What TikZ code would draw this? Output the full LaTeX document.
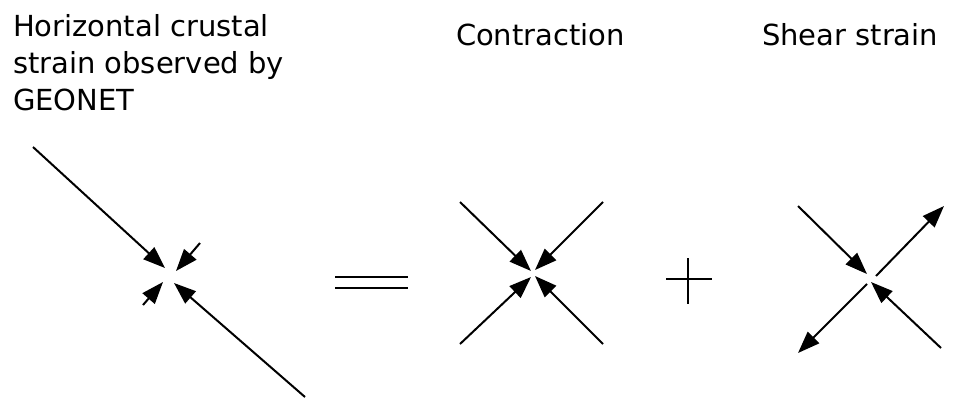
\documentclass[tikz,border=0pt]{standalone}
\usepackage{fontspec}
\setmainfont{DejaVu Sans}
\usetikzlibrary{arrows.meta}
\begin{document}
\begin{tikzpicture}[x=1pt, y=-1pt, >={Triangle[length=22pt,width=16pt]}, line width=2pt]
\useasboundingbox (0,0) rectangle (972,405);
\tikzset{title/.style={font=\fontsize{29}{37}\selectfont, inner sep=0pt, anchor=base west, align=left}}
% observed strain
\coordinate (O1) at (33,147);
\coordinate (O2) at (200,243);
\coordinate (O3) at (143,305);
\coordinate (O4) at (305,397);
\coordinate (T1) at (165,268);
\coordinate (T2) at (176,271);
\coordinate (T3) at (163,282);
\coordinate (T4) at (174,283);
\draw[->] (O1) -- (T1);
\draw[->] (O2) -- (T2);
\draw[->] (O3) -- (T3);
\draw[->] (O4) -- (T4);
% equals
\draw (335,277) -- (408,277);
\draw (335,288) -- (408,288);
% contraction
\coordinate (C1) at (460,202);
\coordinate (C2) at (603,202);
\coordinate (C3) at (460,344);
\coordinate (C4) at (603,344);
\coordinate (D1) at (531,271);
\coordinate (D2) at (535,270);
\coordinate (D3) at (531,277);
\coordinate (D4) at (535,276);
\draw[->] (C1) -- (D1);
\draw[->] (C2) -- (D2);
\draw[->] (C3) -- (D3);
\draw[->] (C4) -- (D4);
% plus
\draw (666,279) -- (712,279);
\draw (688,258) -- (688,304);
% shear
\coordinate (S1) at (798,206);
\coordinate (S2) at (876,276);
\coordinate (S3) at (867,284);
\coordinate (S4) at (941,348);
\coordinate (E1) at (867,274);
\coordinate (E2) at (944,206);
\coordinate (E3) at (798,353);
\coordinate (E4) at (871,282);
\draw[->] (S1) -- (E1);
\draw[->] (S2) -- (E2);
\draw[->] (S3) -- (E3);
\draw[->] (S4) -- (E4);
% labels
\node[title, anchor=north west] (observed) at (12,13) {Horizontal crustal\\strain observed by\\GEONET};
\node[title] (contraction) at (455,45) {Contraction};
\node[title] (shear) at (761,45) {Shear strain};
\end{tikzpicture}
\end{document}
